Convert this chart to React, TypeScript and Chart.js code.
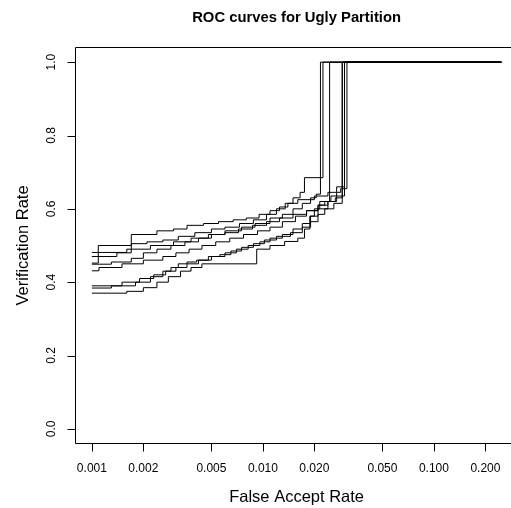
import React, { useEffect, useRef } from "react";
import Chart from "chart.js/auto";

const chartTitle = "ROC curves for Ugly Partition";
const xTitle = "False Accept Rate";
const yTitle = "Verification Rate";

const xTicks = [0.001, 0.002, 0.005, 0.01, 0.02, 0.05, 0.1, 0.2];
const xTickLabels = ["0.001", "0.002", "0.005", "0.010", "0.020", "0.050", "0.100", "0.200"];
const yTicks = [0, 0.2, 0.4, 0.6, 0.8, 1.0];
const yTickLabels = ["0.0", "0.2", "0.4", "0.6", "0.8", "1.0"];

const xMin = 0.000802;
const xMax = 0.309;
const yMin = -0.04;
const yMax = 1.04;

// [FAR, verification rate] at each step of every ROC curve
const curve1 = [[0.001, 0.481], [0.0016, 0.49], [0.0022, 0.5], [0.003, 0.51], [0.0038, 0.52], [0.0048, 0.53], [0.006, 0.54], [0.0075, 0.55], [0.009, 0.56], [0.011, 0.575], [0.013, 0.585], [0.015, 0.6], [0.017, 0.615], [0.019, 0.63], [0.0205, 0.64], [0.0217, 1.0], [0.248, 1.0]];
const curve2 = [[0.001, 0.47], [0.0014, 0.48], [0.0017, 0.53], [0.0024, 0.54], [0.003, 0.545], [0.0036, 0.555], [0.0045, 0.56], [0.0055, 0.565], [0.0067, 0.57], [0.008, 0.575], [0.0095, 0.585], [0.011, 0.595], [0.0125, 0.605], [0.014, 0.615], [0.016, 0.625], [0.02, 0.635], [0.024, 0.645], [0.027, 0.66], [0.03, 1.0], [0.248, 1.0]];
const curve3 = [[0.001, 0.452], [0.00109, 0.5], [0.0017, 0.505], [0.0021, 0.51], [0.0026, 0.515], [0.0032, 0.525], [0.004, 0.535], [0.005, 0.545], [0.006, 0.55], [0.0073, 0.56], [0.0088, 0.57], [0.0105, 0.585], [0.012, 0.6], [0.0135, 0.615], [0.015, 0.63], [0.0165, 0.645], [0.0175, 0.685], [0.02245, 1.0], [0.248, 1.0]];
const curve4 = [[0.001, 0.449], [0.0013, 0.455], [0.0017, 0.465], [0.002, 0.48], [0.0024, 0.49], [0.0029, 0.5], [0.0035, 0.51], [0.0042, 0.52], [0.005, 0.53], [0.006, 0.535], [0.0072, 0.545], [0.0087, 0.555], [0.0105, 0.565], [0.0125, 0.575], [0.015, 0.585], [0.018, 0.595], [0.021, 0.61], [0.024, 0.62], [0.0265, 0.63], [0.0291, 1.0], [0.248, 1.0]];
const curve5 = [[0.001, 0.431], [0.0011, 0.44], [0.0015, 0.45], [0.002, 0.46], [0.0026, 0.47], [0.0031, 0.48], [0.0037, 0.49], [0.0044, 0.5], [0.0053, 0.51], [0.0064, 0.52], [0.0077, 0.53], [0.0093, 0.54], [0.011, 0.55], [0.013, 0.565], [0.0155, 0.58], [0.018, 0.595], [0.021, 0.61], [0.023, 0.62], [0.02455, 1.0], [0.248, 1.0]];
const curve6 = [[0.001, 0.39], [0.0015, 0.4], [0.0019, 0.41], [0.0023, 0.42], [0.0027, 0.43], [0.0031, 0.44], [0.0036, 0.45], [0.0042, 0.46], [0.005, 0.47], [0.006, 0.48], [0.007, 0.49], [0.0082, 0.5], [0.0096, 0.51], [0.011, 0.52], [0.013, 0.53], [0.015, 0.545], [0.017, 0.56], [0.019, 0.58], [0.021, 0.6], [0.024, 0.62], [0.027, 0.645], [0.0285, 0.655], [0.031, 1.0], [0.248, 1.0]];
const curve7 = [[0.001, 0.384], [0.0013, 0.39], [0.0018, 0.4], [0.0022, 0.415], [0.0026, 0.43], [0.0029, 0.44], [0.0032, 0.45], [0.0036, 0.455], [0.0041, 0.46], [0.0048, 0.47], [0.0056, 0.475], [0.0065, 0.485], [0.0075, 0.495], [0.0088, 0.505], [0.0102, 0.515], [0.012, 0.525], [0.0145, 0.535], [0.017, 0.55], [0.019, 0.565], [0.021, 0.585], [0.023, 0.6], [0.026, 0.615], [0.0291, 1.0], [0.248, 1.0]];
const curve8 = [[0.001, 0.37], [0.0016, 0.375], [0.002, 0.385], [0.0024, 0.4], [0.0028, 0.415], [0.0033, 0.43], [0.0038, 0.44], [0.0044, 0.45], [0.0092, 0.49], [0.011, 0.5], [0.0134, 0.511], [0.016, 0.52], [0.0175, 0.545], [0.0188, 0.58], [0.02, 0.6], [0.0215, 0.62], [0.025, 0.635], [0.03, 1.0], [0.248, 1.0]];

const curves = [curve1, curve2, curve3, curve4, curve5, curve6, curve7, curve8];

const FONT = "'Liberation Sans', Arial, Helvetica, sans-serif";
const CANVAS_W = 600;

const rAxesPlugin = {
  id: "rAxes",
  afterDraw(chart: any) {
    const ctx = chart.ctx;
    const area = chart.chartArea;
    const xs = chart.scales.x;
    const ys = chart.scales.y;
    ctx.save();
    ctx.strokeStyle = "#000";
    ctx.fillStyle = "#000";
    ctx.lineWidth = 1;
    ctx.beginPath();
    ctx.moveTo(area.right, area.top);
    ctx.lineTo(area.left, area.top);
    ctx.lineTo(area.left, area.bottom);
    ctx.lineTo(area.right, area.bottom);
    ctx.stroke();
    ctx.beginPath();
    xTicks.forEach((v) => {
      const px = Math.round(xs.getPixelForValue(v)) + 0.5;
      ctx.moveTo(px, area.bottom);
      ctx.lineTo(px, area.bottom + 8);
    });
    yTicks.forEach((v) => {
      const py = Math.round(ys.getPixelForValue(v)) + 0.5;
      ctx.moveTo(area.left, py);
      ctx.lineTo(area.left - 8, py);
    });
    ctx.stroke();
    ctx.font = `12px ${FONT}`;
    ctx.textAlign = "center";
    ctx.textBaseline = "alphabetic";
    xTicks.forEach((v, i) => {
      ctx.fillText(xTickLabels[i], xs.getPixelForValue(v), area.bottom + 24.5 + 4.3);
    });
    yTicks.forEach((v, i) => {
      ctx.save();
      ctx.translate(area.left - 24.5, ys.getPixelForValue(v));
      ctx.rotate(-Math.PI / 2);
      ctx.fillText(yTickLabels[i], 0, 4.3);
      ctx.restore();
    });
    const cx = (area.left + area.right) / 2;
    const cy = (area.top + area.bottom) / 2;
    ctx.font = `16.5px ${FONT}`;
    ctx.fillText(xTitle, cx, area.bottom + 52.3 + 5.9);
    ctx.save();
    ctx.translate(area.left - 53, cy);
    ctx.rotate(-Math.PI / 2);
    ctx.fillText(yTitle, 0, 5.9);
    ctx.restore();
    ctx.font = `bold 14.8px ${FONT}`;
    ctx.fillText(chartTitle, cx, 22);
    ctx.restore();
  },
};

export default function App() {
  const ref = useRef<HTMLCanvasElement | null>(null);
  useEffect(() => {
    if (!ref.current) return;
    const chart = new Chart(ref.current, {
      type: "line",
      data: {
        datasets: curves.map((c, i) => ({
          label: `fold ${i + 1}`,
          data: c.map(([x, y]) => ({ x, y })),
          borderColor: "#000",
          borderWidth: 1,
          pointRadius: 0,
          stepped: true,
          fill: false,
        })),
      },
      plugins: [rAxesPlugin],
      options: {
        animation: false,
        responsive: false,
        devicePixelRatio: 1,
        layout: { padding: { left: 75.5, top: 47.5, right: CANVAS_W - 517.7, bottom: 508 - 443.5 } },
        plugins: { legend: { display: false }, tooltip: { enabled: false }, title: { display: false } },
        scales: {
          x: { type: "logarithmic", min: xMin, max: xMax, display: false },
          y: { type: "linear", min: yMin, max: yMax, display: false },
        },
      },
    });
    return () => chart.destroy();
  }, []);
  return (
    <div style={{ position: "absolute", left: 0, top: 0, width: 511, height: 508, overflow: "hidden", background: "#fff" }}>
      <canvas ref={ref} width={CANVAS_W} height={508} style={{ display: "block", width: CANVAS_W, height: 508 }} />
    </div>
  );
}
